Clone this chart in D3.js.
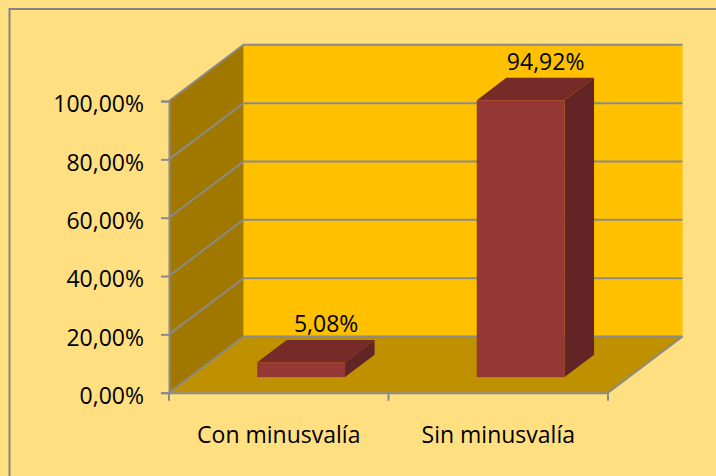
<!DOCTYPE html>
<html><head><meta charset="utf-8">
<script src="https://cdn.jsdelivr.net/npm/d3@7"></script>
<style>html,body{margin:0;padding:0;background:#FFDF80;}svg{display:block;}</style>
</head><body>
<svg id="c" width="716" height="476"></svg>
<script>
const categories = ["Con minusvalía", "Sin minusvalía"];
const values = [0.0508, 0.9492];
const valueLabels = ["5,08%", "94,92%"];
const yTicks = [0, 0.2, 0.4, 0.6, 0.8, 1.0];
const yTickLabels = ["0,00%", "20,00%", "40,00%", "60,00%", "80,00%", "100,00%"];

const W = 716, H = 476;
const svg = d3.select("#c");
const font = "'Open Sans', sans-serif";
const fs = 23;

// layout
const x0 = 169, x1 = 608, yBase = 392.7, yTop = 101;
const DX = 74.5, DY = -56.2;           // full depth offset
const barOff = {dx: 22.4, dy: -15.6};  // bar front face depth offset
const barDepth = {dx: 29.5, dy: -22.4};

const x = d3.scaleBand().domain(categories).range([x0, x1]).paddingInner(0).paddingOuter(0);
const y = d3.scaleLinear().domain([0, 1]).range([yBase, yTop]);
const barW = x.bandwidth() / 2.5;

// background + border
svg.append("rect").attr("x", 0).attr("y", 0).attr("width", W).attr("height", H).attr("fill", "#FFDF80");
svg.append("rect").attr("x", 9.5).attr("y", 9).attr("width", W + 20).attr("height", H + 20)
  .attr("fill", "none").attr("stroke", "#848484").attr("stroke-width", 2);

const pts = a => a.map(p => p.join(",")).join(" ");
const grid = "#8a8a8a";

// back wall
svg.append("polygon").attr("points", pts([[x0 + DX, y(1) + DY], [x1 + DX, y(1) + DY], [x1 + DX, y(0) + DY], [x0 + DX, y(0) + DY]]))
  .attr("fill", "#FFC000");
// side wall
svg.append("polygon").attr("points", pts([[x0, y(1)], [x0 + DX, y(1) + DY], [x0 + DX, y(0) + DY], [x0, y(0)]]))
  .attr("fill", "#A07800");
// floor
svg.append("polygon").attr("points", pts([[x0, y(0)], [x1, y(0)], [x1 + DX, y(0) + DY], [x0 + DX, y(0) + DY]]))
  .attr("fill", "#BF9000");

// gridlines
yTicks.forEach(t => {
  svg.append("polyline")
    .attr("points", pts([[x0, y(t)], [x0 + DX, y(t) + DY], [x1 + DX, y(t) + DY]]))
    .attr("fill", "none").attr("stroke", grid).attr("stroke-width", 2);
});
// floor right edge
svg.append("line").attr("x1", x1).attr("y1", y(0)).attr("x2", x1 + DX).attr("y2", y(0) + DY)
  .attr("stroke", grid).attr("stroke-width", 2);

// axes
const yAxis = d3.axisLeft(y).tickValues(yTicks).tickSize(8).tickFormat((d, i) => yTickLabels[i]).tickPadding(17);
const gy = svg.append("g").attr("transform", `translate(${x0},0)`).call(yAxis);
gy.select(".domain").attr("stroke", grid).attr("stroke-width", 2);
gy.selectAll(".tick line").attr("stroke", grid).attr("stroke-width", 2);
gy.selectAll(".tick text").attr("font-family", font).attr("font-size", fs).attr("fill", "#000")
  .attr("dy", "0.38em").attr("y", 2);

const xAxis = d3.axisBottom(x).tickSize(0).tickPadding(0);
const gx = svg.append("g").attr("transform", `translate(0,${yBase})`).call(xAxis);
gx.select(".domain").attr("stroke", grid).attr("stroke-width", 2);
gx.selectAll(".tick text").attr("font-family", font).attr("font-size", fs).attr("fill", "#000")
  .attr("dy", 0).attr("y", 50.6);
// category boundary ticks
const bounds = [x0, x(categories[1]), x1];
gx.selectAll(".btick").data(bounds).join("line").attr("class", "btick")
  .attr("x1", d => d).attr("x2", d => d).attr("y1", 0).attr("y2", 8)
  .attr("stroke", grid).attr("stroke-width", 2);

// bars
const bars = svg.append("g");
categories.forEach((c, i) => {
  const fx = x(c) + (x.bandwidth() - barW) / 2 + barOff.dx;
  const fb = y(0) + barOff.dy;
  const ft = y(values[i]) + barOff.dy;
  const g = bars.append("g");
  // side
  g.append("polygon").attr("points", pts([[fx + barW, ft], [fx + barW + barDepth.dx, ft + barDepth.dy], [fx + barW + barDepth.dx, fb + barDepth.dy], [fx + barW, fb]]))
    .attr("fill", "#622424");
  // top
  g.append("polygon").attr("points", pts([[fx, ft], [fx + barDepth.dx, ft + barDepth.dy], [fx + barW + barDepth.dx, ft + barDepth.dy], [fx + barW, ft]]))
    .attr("fill", "#762B29");
  // front
  g.append("rect").attr("x", fx).attr("y", ft).attr("width", barW).attr("height", fb - ft)
    .attr("fill", "#953735");
  // label
  g.append("text").attr("x", fx + barW / 2 + 25).attr("y", ft + barDepth.dy - 7.5)
    .attr("text-anchor", "middle").attr("font-family", font).attr("font-size", fs).attr("fill", "#000")
    .text(valueLabels[i]);
});
</script>
</body></html>
